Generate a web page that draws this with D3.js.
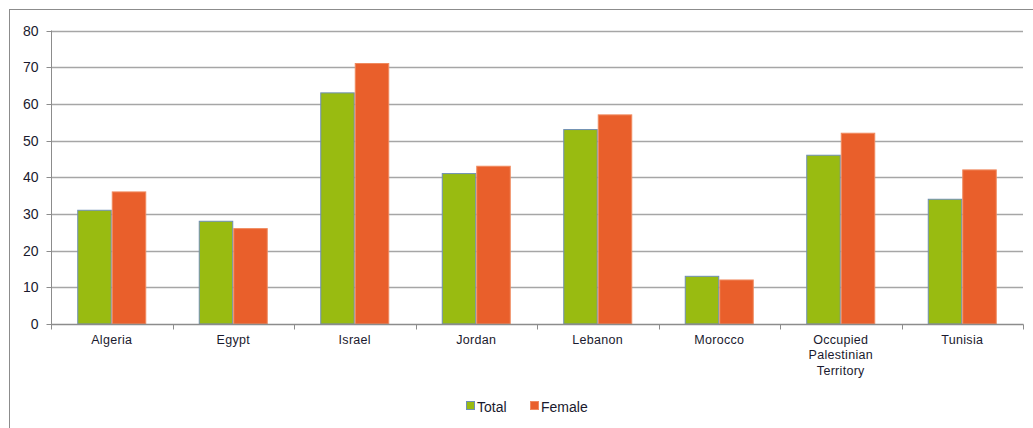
<!DOCTYPE html>
<html>
<head>
<meta charset="utf-8">
<script src="https://cdn.jsdelivr.net/npm/d3@7"></script>
<style>
  html, body { margin: 0; padding: 0; background: #fff; }
  svg { display: block; font-family: "Liberation Sans", Arial, sans-serif; }
</style>
</head>
<body>
<svg id="chart" width="1033" height="428"></svg>
<script>
// Countries on the x axis (multi-line labels split on "\n")
const categories = ["Algeria", "Egypt", "Israel", "Jordan", "Lebanon", "Morocco",
                    "Occupied\nPalestinian\nTerritory", "Tunisia"];
// Series values
const totalValues  = [31, 28, 63, 41, 53, 13, 46, 34];
const femaleValues = [36, 26, 71, 43, 57, 12, 52, 42];
const seriesNames  = ["Total", "Female"];
const yTicks = [0, 10, 20, 30, 40, 50, 60, 70, 80];

const seriesColors = ["#99BB11", "#E95F2B"];
const seriesStroke = ["#6F8FB5", "#F08A5F"];

const svg = d3.select("#chart");
const m = { left: 51, right: 1023, top: 30.5, bottom: 324 };

// outer chart frame
svg.append("rect")
  .attr("x", 9.5).attr("y", 9.5)
  .attr("width", 1040).attr("height", 440)
  .attr("fill", "#fff").attr("stroke", "#8c8c8c").attr("stroke-width", 1);

const x0 = d3.scaleBand().domain(d3.range(categories.length))
  .range([m.left, m.right]).paddingInner(0).paddingOuter(0);
const innerPad = (x0.bandwidth() - 2 * 34.5) / 2;
const x1 = d3.scaleBand().domain([0, 1])
  .range([innerPad, x0.bandwidth() - innerPad]).padding(0);
const y = d3.scaleLinear().domain([0, 80]).range([m.bottom, m.top]);

// gridlines
svg.append("g")
  .selectAll("line").data(yTicks.filter(d => d > 0)).join("line")
  .attr("x1", m.left).attr("x2", m.right)
  .attr("y1", d => Math.round(y(d)) + 0.5).attr("y2", d => Math.round(y(d)) + 0.5)
  .attr("stroke", "#a6a6a6").attr("stroke-width", 1.3);

// y axis
const yAxis = svg.append("g")
  .attr("transform", `translate(${m.left + 0.5},0)`)
  .call(d3.axisLeft(y).tickValues(yTicks).tickSize(5).tickPadding(8).tickFormat(d3.format("d")));
yAxis.select(".domain").attr("stroke", "#8c8c8c").attr("d", `M0,${m.top}V${m.bottom}`);
yAxis.selectAll(".tick line").attr("stroke", "#8c8c8c");
yAxis.selectAll(".tick text")
  .attr("font-size", 14).attr("fill", "#1a1a2e")
  .attr("font-family", "Liberation Sans, Arial, sans-serif");
yAxis.selectAll(".tick").attr("transform", d => `translate(0,${Math.round(y(d)) + 0.5})`);

// bars
const groups = svg.append("g").selectAll("g")
  .data(categories.map((c, i) => ({ i, vals: [totalValues[i], femaleValues[i]] })))
  .join("g")
  .attr("transform", d => `translate(${x0(d.i)},0)`);

groups.selectAll("rect")
  .data(d => d.vals.map((v, s) => ({ v, s })))
  .join("rect")
  .attr("x", d => x1(d.s) + 0.5)
  .attr("y", d => y(d.v))
  .attr("width", x1.bandwidth() - 1)
  .attr("height", d => m.bottom - y(d.v))
  .attr("fill", d => seriesColors[d.s])
  .attr("stroke", d => seriesStroke[d.s])
  .attr("stroke-width", 1);

// x axis
const xAxisG = svg.append("g").attr("transform", `translate(0,${m.bottom + 0.5})`);
xAxisG.append("line")
  .attr("x1", m.left).attr("x2", m.right + 0.5)
  .attr("stroke", "#8c8c8c").attr("stroke-width", 1.3);
xAxisG.selectAll("line.tick")
  .data(d3.range(categories.length + 1)).join("line")
  .attr("class", "tick")
  .attr("x1", i => Math.round(m.left + i * x0.step()) + 0.5)
  .attr("x2", i => Math.round(m.left + i * x0.step()) + 0.5)
  .attr("y1", 0).attr("y2", 5)
  .attr("stroke", "#8c8c8c");

const labels = xAxisG.selectAll("text.cat")
  .data(categories).join("text")
  .attr("class", "cat")
  .attr("x", (d, i) => x0(i) + x0.bandwidth() / 2)
  .attr("y", 19)
  .attr("text-anchor", "middle")
  .attr("font-size", 12.5)
  .attr("letter-spacing", 0.3)
  .attr("fill", "#1a1a2e");
labels.each(function(d) {
  const t = d3.select(this);
  d.split("\n").forEach((line, k) => {
    t.append("tspan").attr("x", t.attr("x")).attr("dy", k === 0 ? 0 : 15.5).text(line);
  });
});

// legend
const legend = svg.append("g").attr("transform", "translate(466,406)");
const legendX = [0, 64];
seriesNames.forEach((name, s) => {
  const g = legend.append("g").attr("transform", `translate(${legendX[s]},0)`);
  g.append("rect")
    .attr("x", 0.5).attr("y", -4.5).attr("width", 8).attr("height", 8)
    .attr("fill", seriesColors[s]).attr("stroke", seriesStroke[s]);
  g.append("text")
    .attr("x", 11).attr("y", 5.5)
    .attr("font-size", 14).attr("fill", "#1a1a2e")
    .text(name);
});
</script>
</body>
</html>
